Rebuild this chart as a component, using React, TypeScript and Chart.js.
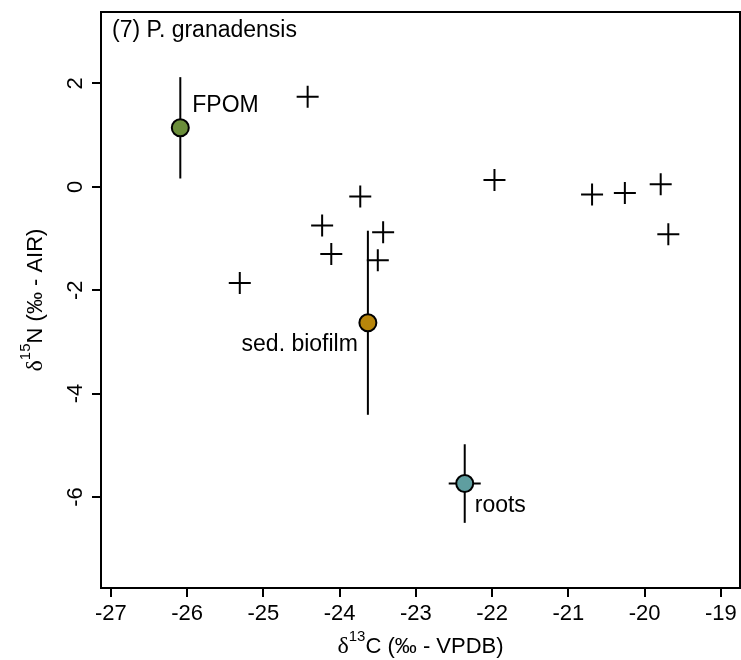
import React, { useEffect, useRef } from "react";
import { Chart, registerables } from "chart.js";

Chart.register(...registerables);

const SANS = "'Liberation Sans', Arial, Helvetica, sans-serif";
const SERIF = "'Liberation Serif', 'DejaVu Serif', serif";

const panelTitle = "(7) P. granadensis";

// axis ticks
const xTicks = [-27, -26, -25, -24, -23, -22, -21, -20, -19];
const yTicks = [-6, -4, -2, 0, 2];
const xLimits = [-27.13, -18.75];
const yLimits = [-7.76, 3.38];

// consumers (crosses)
const consumerC = [-24.42, -23.73, -24.23, -24.11, -25.31, -23.43, -23.5, -21.97, -20.69, -20.26, -19.79, -19.69];
const consumerN = [1.74, -0.19, -0.75, -1.3, -1.86, -0.88, -1.42, 0.13, -0.15, -0.12, 0.05, -0.92];

// sources (mean +/- sd)
const sourceNames = ["FPOM", "sed. biofilm", "roots"];
const sourceC = [-26.09, -23.63, -22.36];
const sourceN = [1.14, -2.63, -5.74];
const sourceSdC = [0, 0, 0.21];
const sourceSdN = [0.98, 1.78, 0.76];
const sourceColors = ["#6B8E3A", "#B8860B", "#5F9EA0"];

// label placement (pixel offsets from the point, and alignment)
const labelDx = [12, -10, 10];
const labelDy = [-16, 28, 28];
const labelAlign: CanvasTextAlign[] = ["left", "right", "left"];

const TICK_FONT = `22px ${SANS}`;
const LABEL_FONT = `23px ${SANS}`;

function drawSupTitle(
  ctx: CanvasRenderingContext2D,
  parts: { text: string; font: string; rise: number }[],
  cx: number,
  baseline: number
) {
  let total = 0;
  const widths = parts.map((p) => {
    ctx.font = p.font;
    const w = ctx.measureText(p.text).width;
    total += w;
    return w;
  });
  let x = cx - total / 2;
  ctx.textAlign = "left";
  ctx.textBaseline = "alphabetic";
  parts.forEach((p, i) => {
    ctx.font = p.font;
    ctx.fillText(p.text, x, baseline - p.rise);
    x += widths[i];
  });
}

const overlayPlugin = {
  id: "overlay",
  beforeDatasetsDraw(chart: any) {
    const ctx = chart.ctx as CanvasRenderingContext2D;
    const xs = chart.scales.x;
    const ys = chart.scales.y;
    ctx.save();
    ctx.strokeStyle = "#000";
    ctx.lineWidth = 2;
    for (let i = 0; i < sourceC.length; i++) {
      const px = xs.getPixelForValue(sourceC[i]);
      const py = ys.getPixelForValue(sourceN[i]);
      if (sourceSdN[i] > 0) {
        ctx.beginPath();
        ctx.moveTo(px, ys.getPixelForValue(sourceN[i] + sourceSdN[i]));
        ctx.lineTo(px, ys.getPixelForValue(sourceN[i] - sourceSdN[i]));
        ctx.stroke();
      }
      if (sourceSdC[i] > 0) {
        ctx.beginPath();
        ctx.moveTo(xs.getPixelForValue(sourceC[i] - sourceSdC[i]), py);
        ctx.lineTo(xs.getPixelForValue(sourceC[i] + sourceSdC[i]), py);
        ctx.stroke();
      }
    }
    ctx.restore();
  },
  afterDraw(chart: any) {
    const ctx = chart.ctx as CanvasRenderingContext2D;
    const xs = chart.scales.x;
    const ys = chart.scales.y;
    const a = chart.chartArea;
    ctx.save();
    // box
    ctx.strokeStyle = "#000";
    ctx.lineWidth = 2;
    ctx.strokeRect(a.left, a.top, a.right - a.left, a.bottom - a.top);

    ctx.fillStyle = "#000";
    // x tick labels
    ctx.font = TICK_FONT;
    ctx.textAlign = "center";
    ctx.textBaseline = "alphabetic";
    xTicks.forEach((v) => {
      ctx.fillText(String(v), xs.getPixelForValue(v), a.bottom + 31.5);
    });
    // y tick labels (rotated)
    yTicks.forEach((v) => {
      ctx.save();
      ctx.translate(a.left - 19, ys.getPixelForValue(v));
      ctx.rotate(-Math.PI / 2);
      ctx.textAlign = "center";
      ctx.fillText(String(v), 0, 0);
      ctx.restore();
    });

    // panel title
    ctx.font = LABEL_FONT;
    ctx.textAlign = "left";
    ctx.fillText(panelTitle, a.left + 11, a.top + 25);

    // source labels
    for (let i = 0; i < sourceNames.length; i++) {
      const px = xs.getPixelForValue(sourceC[i]);
      const py = ys.getPixelForValue(sourceN[i]);
      ctx.textAlign = labelAlign[i];
      ctx.fillText(sourceNames[i], px + labelDx[i], py + labelDy[i]);
    }

    // x axis title
    const cx = (a.left + a.right) / 2;
    drawSupTitle(
      ctx,
      [
        { text: "δ", font: `24px ${SERIF}`, rise: 0 },
        { text: "13", font: `15px ${SANS}`, rise: 12 },
        { text: "C (‰ - VPDB)", font: `22px ${SANS}`, rise: 0 },
      ],
      cx,
      653
    );
    // y axis title
    ctx.save();
    ctx.translate(42, (a.top + a.bottom) / 2);
    ctx.rotate(-Math.PI / 2);
    drawSupTitle(
      ctx,
      [
        { text: "δ", font: `24px ${SERIF}`, rise: 0 },
        { text: "15", font: `15px ${SANS}`, rise: 12 },
        { text: "N (‰ - AIR)", font: `22px ${SANS}`, rise: 0 },
      ],
      0,
      0
    );
    ctx.restore();
    ctx.restore();
  },
};

export default function App() {
  const ref = useRef<HTMLCanvasElement | null>(null);
  useEffect(() => {
    if (!ref.current) return;
    const chart = new Chart(ref.current, {
      type: "scatter",
      data: {
        datasets: [
          {
            label: "consumers",
            data: consumerC.map((c, i) => ({ x: c, y: consumerN[i] })),
            pointStyle: "cross",
            pointRadius: 11,
            pointBorderWidth: 2,
            borderColor: "#000",
            backgroundColor: "#000",
          },
          {
            label: "sources",
            data: sourceC.map((c, i) => ({ x: c, y: sourceN[i] })),
            pointStyle: "circle",
            pointRadius: 8.5,
            pointBorderWidth: 2,
            borderColor: "#000",
            backgroundColor: sourceColors,
          },
        ],
      },
      options: {
        responsive: false,
        animation: false,
        devicePixelRatio: 1,
        layout: { autoPadding: false, padding: { top: 12, right: 1, left: 0, bottom: 0 } },
        plugins: { legend: { display: false }, tooltip: { enabled: false } },
        scales: {
          x: {
            type: "linear",
            position: "bottom",
            min: xLimits[0],
            max: xLimits[1],
            afterBuildTicks: (s: any) => {
              s.ticks = xTicks.map((v) => ({ value: v }));
            },
            afterFit: (s: any) => {
              s.height = 72;
              s.paddingLeft = 0;
              s.paddingRight = 0;
            },
            border: { display: false },
            grid: {
              display: true,
              drawOnChartArea: false,
              drawTicks: true,
              tickLength: 9,
              color: "#000",
              lineWidth: 2,
            },
            ticks: { color: "rgba(0,0,0,0)", font: { size: 1 }, padding: 0 },
          },
          y: {
            type: "linear",
            position: "left",
            min: yLimits[0],
            max: yLimits[1],
            afterBuildTicks: (s: any) => {
              s.ticks = yTicks.map((v) => ({ value: v }));
            },
            afterFit: (s: any) => {
              s.width = 101;
              s.paddingTop = 0;
              s.paddingBottom = 0;
            },
            border: { display: false },
            grid: {
              display: true,
              drawOnChartArea: false,
              drawTicks: true,
              tickLength: 9,
              color: "#000",
              lineWidth: 2,
            },
            ticks: { color: "rgba(0,0,0,0)", font: { size: 1 }, padding: 0 },
          },
        },
      },
      plugins: [overlayPlugin],
    });
    return () => chart.destroy();
  }, []);
  return (
    <canvas
      ref={ref}
      width={741}
      height={660}
      style={{ position: "absolute", left: 0, top: 0, width: 741, height: 660 }}
    />
  );
}
